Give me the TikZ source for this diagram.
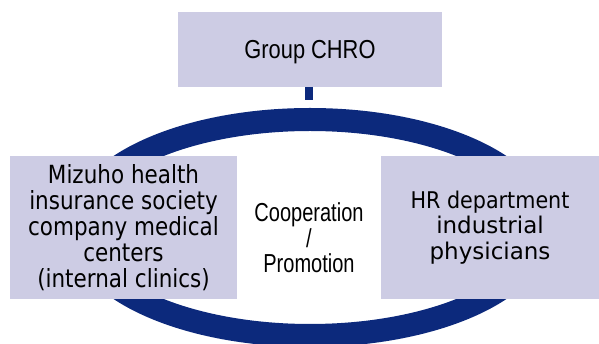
\documentclass[tikz,border=0pt]{standalone}
\usepackage{fontspec}
\usetikzlibrary{shapes.geometric}
\setmainfont{Liberation Sans}
\newfontfamily\chrofont[FakeStretch=0.84]{Liberation Sans}
\newfontfamily\coopfont[FakeStretch=0.77]{Liberation Sans}
\newfontfamily\leftfont[FakeStretch=0.86]{DejaVu Sans}
\newfontfamily\hrfont[FakeStretch=0.9]{DejaVu Sans}
\newfontfamily\widefont{DejaVu Sans}
\definecolor{boxfill}{RGB}{205,204,228}
\definecolor{navy}{RGB}{12,41,124}
\begin{document}
\begin{tikzpicture}[x=1pt,y=-1pt,
  box/.style={fill=boxfill, draw=none, inner sep=0pt, outer sep=0pt, align=center, text=black},
  ringstyle/.style={ellipse, draw=navy, line width=23pt, inner sep=0pt, outer sep=0pt},
  stemstyle/.style={draw=navy, line width=8pt}]
\useasboundingbox (0,0) rectangle (599,344);
% ring
\node[ringstyle, minimum width=464pt, minimum height=216pt] (ring) at (310,227.5) {};
% top box
\node[box, minimum width=264pt, minimum height=75pt, text height=19pt, text depth=0pt,
      font={\chrofont\fontsize{26}{26}\selectfont}] (chro) at (310,49.5) {Group CHRO};
\coordinate (stemend) at (309,100);
\draw[stemstyle] (chro.south -| stemend) -- (stemend);
% left box
\node[box, minimum width=227pt, minimum height=143pt,
      font={\leftfont\fontsize{25}{26}\selectfont}] (clinic) at (123.5,227.5)
  {Mizuho health\\ insurance society\\ company medical\\ centers\\ (internal clinics)};
% right box
\node[box, minimum width=218pt, minimum height=143pt,
      font={\fontsize{23}{25.5}\selectfont}] (hr) at (490,227.5)
  {{\hrfont HR department}\\ {\widefont industrial}\\ {\widefont physicians}};
% centre label
\node[align=center, inner sep=0pt, font={\coopfont\fontsize{26}{25.7}\selectfont}] (coop) at (309,238)
  {Cooperation\\ /\\ Promotion};
\end{tikzpicture}
\end{document}
